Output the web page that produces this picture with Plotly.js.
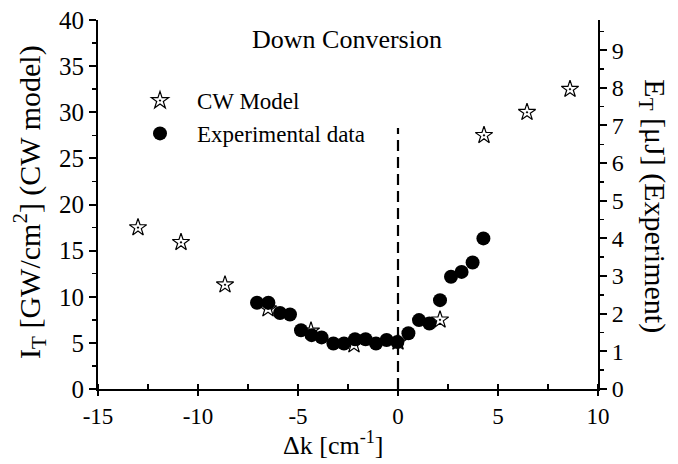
<!DOCTYPE html>
<html>
<head>
<meta charset="utf-8">
<script src="https://cdn.plot.ly/plotly-3.0.1.min.js"></script>
<style>html,body{margin:0;padding:0;background:#fff;}#chart{width:678px;height:464px;}</style>
</head>
<body>
<div id="chart"></div>
<script>
// CW model: delta k [cm^-1] vs I_T [GW/cm^2]
const cwDk = [-13.0, -10.85, -8.65, -6.5, -4.35, -2.2, 0.0, 2.1, 4.3, 6.45, 8.6];
const cwIT = [17.5, 15.9, 11.3, 8.7, 6.3, 4.8, 5.1, 7.5, 27.5, 30.0, 32.5];
// Experimental data: delta k [cm^-1] vs E_T [uJ]
const expDk = [-7.05, -6.48, -5.9, -5.4, -4.85, -4.32, -3.82, -3.23, -2.7, -2.15, -1.62, -1.1, -0.57, -0.03, 0.52, 1.05, 1.57, 2.1, 2.65, 3.18, 3.73, 4.27];
const expET = [2.29, 2.29, 2.02, 1.98, 1.56, 1.43, 1.37, 1.21, 1.21, 1.32, 1.32, 1.21, 1.3, 1.25, 1.48, 1.83, 1.74, 2.36, 2.98, 3.11, 3.36, 4.0];
// phase-matching marker line
const zeroLineX = [0, 0];
const zeroLineY = [0, 28.3];
// tick labels
const xTickVals = [-15, -10, -5, 0, 5, 10];
const xTickText = ['-15', '-10', '-5', '0', '5', '10'];
const yTickVals = [0, 5, 10, 15, 20, 25, 30, 35, 40];
const yTickText = ['0', '5', '10', '15', '20', '25', '30', '35', '40'];
const y2TickVals = [0, 1, 2, 3, 4, 5, 6, 7, 8, 9];
const y2TickText = ['0', '1', '2', '3', '4', '5', '6', '7', '8', '9'];

const FONT = '"Liberation Serif", "Times New Roman", Times, serif';

const traces = [
  {x: zeroLineX, y: zeroLineY, mode: 'lines', xaxis: 'x', yaxis: 'y', showlegend: false, hoverinfo: 'skip',
   line: {color: '#000', width: 2.2, dash: '11px,6px'}},
  {x: cwDk, y: cwIT, mode: 'markers', name: 'CW Model', xaxis: 'x', yaxis: 'y',
   marker: {symbol: 'star-open-dot', size: 13, color: '#000', line: {color: '#000', width: 1.2}}},
  {x: expDk, y: expET, mode: 'markers', name: 'Experimental data', xaxis: 'x', yaxis: 'y2',
   marker: {symbol: 'circle', size: 14, color: '#000'}},
  {x: [null], y: [null], xaxis: 'x2', yaxis: 'y', showlegend: false, hoverinfo: 'skip', mode: 'markers'}
];

const layout = {
  width: 678, height: 464,
  margin: {l: 98, r: 80, t: 20, b: 75},
  paper_bgcolor: '#fff', plot_bgcolor: '#fff',
  font: {family: FONT, color: '#000', size: 22},
  showlegend: true,
  legend: {x: 0.05, y: 0.84, xanchor: 'left', yanchor: 'top', bgcolor: 'rgba(0,0,0,0)',
           font: {family: FONT, size: 23, color: '#000'}, itemwidth: 64, tracegroupgap: 0},
  xaxis: {range: [-15, 10], tickmode: 'array', tickvals: xTickVals, ticktext: xTickText,
          showgrid: false, zeroline: false,
          showline: true, linecolor: '#000', linewidth: 2,
          ticks: 'outside', ticklen: 5, tickwidth: 2, tickcolor: '#000',
          minor: {dtick: 2.5, tick0: 0, ticks: 'inside', ticklen: 5, tickwidth: 1.5, tickcolor: '#000', showgrid: false},
          tickfont: {family: FONT, size: 23, color: '#000'}, anchor: 'y'},
  xaxis2: {range: [-15, 10], tickmode: 'array', tickvals: xTickVals, overlaying: 'x', anchor: 'y', side: 'bottom',
           showgrid: false, zeroline: false, showline: false, showticklabels: false,
           ticks: 'inside', ticklen: 5, tickwidth: 2, tickcolor: '#000'},
  yaxis: {range: [0, 40], tickmode: 'array', tickvals: yTickVals, ticktext: yTickText,
          showgrid: false, zeroline: false,
          showline: true, linecolor: '#000', linewidth: 2,
          ticks: 'outside', ticklen: 7, tickwidth: 2, tickcolor: '#000',
          minor: {dtick: 2.5, tick0: 0, ticks: 'outside', ticklen: 4, tickwidth: 1.5, tickcolor: '#000', showgrid: false},
          tickfont: {family: FONT, size: 25, color: '#000'}},
  yaxis2: {range: [0, 9.8], tickmode: 'array', tickvals: y2TickVals, ticktext: y2TickText,
           overlaying: 'y', side: 'right', anchor: 'x',
           showgrid: false, zeroline: false,
           showline: true, linecolor: '#000', linewidth: 2,
           ticks: 'outside', ticklen: 7, tickwidth: 2, tickcolor: '#000',
           minor: {dtick: 0.5, tick0: 0, ticks: 'outside', ticklen: 4, tickwidth: 1.5, tickcolor: '#000', showgrid: false},
           tickfont: {family: FONT, size: 24, color: '#000'}},
  annotations: [
    {text: 'Down Conversion', xref: 'paper', yref: 'paper', x: 0.498, y: 0.946, showarrow: false,
     xanchor: 'center', yanchor: 'middle', font: {family: FONT, size: 26, color: '#000'}},
    {text: 'Δk [cm<sup>-1</sup>]', xref: 'paper', yref: 'paper', x: 0.47, y: -0.147, showarrow: false,
     xanchor: 'center', yanchor: 'middle', font: {family: FONT, size: 26, color: '#000'}},
    {text: 'I<sub>T</sub> [GW/cm<sup>2</sup>] (CW model)', xref: 'paper', yref: 'paper', x: -0.136, y: 0.507,
     showarrow: false, textangle: -90, xanchor: 'center', yanchor: 'middle', font: {family: FONT, size: 30, color: '#000'}},
    {text: 'E<sub>T</sub> [μJ] (Experiment)', xref: 'paper', yref: 'paper', x: 1.11, y: 0.495,
     showarrow: false, textangle: 90, xanchor: 'center', yanchor: 'middle', font: {family: FONT, size: 30, color: '#000'}}
  ]
};

Plotly.newPlot('chart', traces, layout, {staticPlot: true, displayModeBar: false});
</script>
</body>
</html>
